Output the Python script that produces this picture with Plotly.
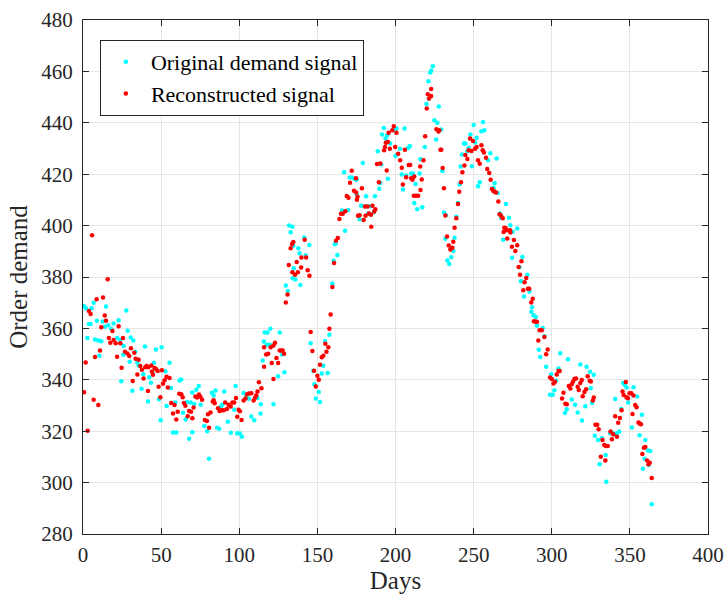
import plotly.graph_objects as go

# ---- Original demand signal (cyan) : day ----
orig_days = [0.6, 1.9, 2.8, 3.8, 4.9, 5.5, 6.8, 7.7, 8.9, 9.8, 10.5, 11.7, 12.6, 14.1, 14.7, 16.2, 18.1, 19.6,
             21.8, 22.8, 23.7, 24.5, 25.8, 26.0, 27.7, 28.6, 29.9, 30.5, 31.6, 32.2, 33.5, 34.8, 35.6, 37.5,
             38.6, 39.7, 41.6, 42.4, 43.5, 44.6, 45.4, 46.7, 48.6, 49.7, 50.3, 52.7, 53.5, 55.4, 56.3, 57.6,
             59.1, 59.7, 61.8, 62.9, 64.0, 65.7, 66.6, 67.9, 68.9, 69.9, 70.0, 71.2, 72.5, 74.1, 75.3, 77.6,
             79.5, 80.7, 82.5, 83.6, 84.8, 85.9, 87.2, 88.2, 89.1, 90.4, 92.7, 94.6, 96.8, 97.7, 98.7, 100.4,
             101.7, 102.8, 104.5, 106.2, 107.7, 109.6, 111.7, 113.6,
             113.8, 115.0, 115.7, 116.3, 117.6, 118.0, 119.3, 119.9, 121.0, 121.9, 124.9, 125.9, 127.4, 128.9,
             129.8, 131.1, 131.9, 132.9, 134.0, 134.2, 134.6, 134.9, 135.9, 137.8, 138.6, 139.1, 141.6, 142.5,
             144.9, 145.7, 147.4, 148.1, 149.0, 150.9, 151.7, 152.8, 153.8, 154.9, 156.6, 157.7, 159.6, 160.4,
             161.1, 161.7, 162.8, 165.8, 167.1, 167.7, 169.7, 170.7, 172.0,
             173.6, 175.1, 175.3, 177.0, 178.0, 179.1, 180.6, 181.2, 182.5, 184.0, 186.1, 186.8, 188.7, 189.6,
             190.2, 190.8, 191.4, 192.5, 193.6, 194.7, 195.1, 196.6, 198.7, 199.8, 200.0, 200.6, 202.9, 204.0,
             204.8, 205.8, 206.8, 208.1, 209.2, 210.0, 211.1, 212.0, 212.8, 213.9, 215.4, 216.0, 217.1, 218.8,
             219.8, 221.1, 221.3, 222.2, 222.8, 223.9, 224.9, 226.0, 226.8, 227.7,
             229.3, 230.0, 231.0, 231.9, 232.2, 233.2, 234.4, 235.7, 237.0, 237.8, 238.9, 240.0, 241.0, 241.7,
             242.5, 243.8, 244.7, 246.0, 246.8, 247.9, 248.9, 250.0, 250.9, 251.9, 252.8, 253.9, 255.0, 256.0,
             256.8, 259.2, 260.7, 262.8, 263.4, 264.7, 265.4, 266.8, 267.6, 268.9, 270.7, 272.6, 273.5, 274.6,
             274.9, 277.9, 279.3, 280.3, 281.2, 282.3, 284.4, 285.7, 286.9,
             287.4, 288.3, 289.8, 290.5, 291.7, 292.6, 294.2, 295.3, 296.4, 298.9, 299.6, 300.6, 301.7, 302.8,
             304.3, 305.5, 308.5, 309.6, 310.4, 312.8, 314.9, 316.6, 318.3, 319.4, 321.5, 322.3, 324.5,
             324.9, 325.8, 326.9, 327.6, 329.7, 330.6, 332.1, 334.5, 334.9, 337.4, 338.5, 339.8, 340.6, 341.7,
             343.2, 344.5, 345.7, 346.8, 347.9, 348.9, 351.3, 352.3, 354.7, 356.2, 357.7, 358.3, 359.4, 359.9,
             361.6, 362.1, 363.1, 364.0]
orig_vals = [368.7, 367.8, 356.3, 361.7, 361.7, 367.8, 370.0, 355.7, 363.0, 355.3, 349.4, 355.0, 362.7, 360.6,
             368.5, 361.2, 359.8, 361.9, 356.3, 363.2, 355.5, 339.4, 349.7, 353.2, 367.0, 359.1, 347.0, 356.5,
             335.7, 355.3, 350.9, 346.7, 345.6, 336.5, 342.2, 353.0, 331.6, 341.0, 338.9, 342.6, 346.6, 351.8,
             332.4, 324.3, 352.7, 343.3, 329.8, 346.6, 336.8, 319.5,
             331.2, 319.5, 339.7, 340.1, 327.2, 324.6, 331.4, 317.1, 331.2, 335.1, 319.6, 330.6, 336.1, 337.6,
             330.3, 322.0, 320.0, 309.3, 335.0, 333.9, 335.8, 321.3, 321.0, 329.5, 330.3, 335.4, 323.7, 319.4,
             328.3, 337.6, 319.2, 319.1, 317.8, 334.9, 333.5, 332.6, 325.7, 324.3, 332.9, 326.9,
             330.5, 347.5, 354.9, 358.4, 353.6, 358.4, 353.6, 359.9, 353.3, 330.5, 341.4, 358.4, 349.8, 342.9,
             376.7, 374.6, 400.0, 397.4, 399.6, 379.5, 392.2, 383.4, 379.0, 391.2, 389.2, 376.9, 395.4, 388.4,
             392.5, 354.2, 343.5, 338.3, 332.7, 335.3, 331.4, 342.5, 345.5, 355.1, 342.6, 357.5, 377.5, 386.3,
             392.8, 392.8, 388.6, 405.9, 420.8, 398.0, 406.1, 418.7, 418.7,
             418.2, 417.8, 411.9, 402.5, 407.7, 424.4, 407.5, 411.4, 404.7, 407.5, 405.2, 411.4, 428.9, 414.3,
             416.6, 423.8, 435.4, 438.0, 433.9, 435.2, 418.2, 431.9, 437.4, 436.7, 427.1, 437.8, 429.9, 419.9,
             414.0, 437.8, 419.5, 430.2, 431.0, 420.3, 420.3, 408.8, 416.2, 406.4, 420.3, 425.8, 407.1, 430.6,
             447.3, 456.2, 449.4, 459.6, 460.3, 462.0, 441.0, 433.5, 440.0, 446.3,
             437.4, 421.2, 405.1, 394.9, 404.0, 386.4, 385.1, 387.7, 390.1, 395.3, 403.4, 408.8, 416.0, 423.0,
             427.7, 431.9, 431.9, 428.9, 430.3, 435.4, 423.1, 439.1, 432.3, 434.2, 415.3, 416.9, 436.7, 440.3,
             437.1, 425.4, 428.2, 414.6, 416.5, 426.1, 412.7, 404.7, 403.1, 394.5, 408.4, 403.1, 400.1, 387.5,
             397.6, 398.9, 383.8, 378.3, 387.8, 372.4, 380.9, 374.4, 366.5,
             368.2, 365.1, 364.4, 361.0, 351.7, 348.9, 360.2, 356.9, 345.1, 334.2, 342.2, 334.2, 335.9, 339.6,
             344.4, 350.3, 327.1, 328.5, 348.0, 332.3, 330.3, 327.3, 346.0, 324.2, 329.7, 345.1, 343.1,
             336.7, 331.0, 342.0, 318.2, 316.6, 307.1, 317.3, 310.7, 300.3, 319.2, 319.5, 318.8, 332.5, 319.2,
             319.9, 328.6, 338.8, 338.0, 337.0, 331.2, 321.4, 337.1, 333.5, 318.4, 326.4, 305.4, 309.3, 316.6,
             312.5, 306.8, 312.3, 291.6]

# ---- Reconstructed signal (red) ----
recon_days = [0.6, 1.7, 3.0, 3.8, 4.9, 5.8, 6.8, 7.7, 8.7, 9.8, 10.9, 11.7, 12.8, 13.9, 14.7, 15.8, 16.6, 17.5,
              18.8, 19.6, 20.9, 21.8, 22.8, 23.9, 24.7, 25.6, 26.9, 28.4, 29.6, 30.7, 31.8, 32.8, 33.7, 34.8,
              35.6, 36.7, 37.7, 38.8, 39.9, 40.7, 41.6, 41.8, 43.7, 44.1, 44.8, 45.8, 46.9, 47.8, 48.4, 49.5,
              50.5, 51.2, 52.2, 53.5, 54.3, 55.4, 56.5, 57.6, 58.6, 59.7, 60.6, 61.6,
              62.9, 63.8, 64.6, 65.5, 67.0, 67.9, 69.1, 70.0, 70.8, 71.9, 73.0, 74.2, 75.1, 76.2, 78.0, 79.3,
              80.0, 80.7, 81.6, 83.1, 83.6, 84.3, 86.4, 87.4, 88.7, 90.0, 91.0, 92.1, 93.2, 94.5, 95.7, 96.8,
              97.9, 98.7, 99.6, 100.4, 101.5, 102.8, 104.0, 105.0, 106.2, 107.7, 109.2, 110.2, 110.9, 111.7,
              112.6,
              114.2, 115.9, 115.9, 117.2, 118.5, 120.1, 120.8, 121.9, 121.9, 122.9, 123.8, 124.9, 125.9, 127.0,
              127.8, 128.7, 129.8, 130.9, 131.7, 132.9, 133.8, 134.0, 134.6, 135.7, 136.8, 137.5, 139.6, 139.8,
              141.9, 142.8, 143.8, 144.9, 145.7, 146.8, 147.9, 149.0, 150.0, 150.9, 151.7, 152.8, 153.8, 155.1,
              155.8, 157.0, 157.7, 158.5, 159.6, 160.7, 161.9, 163.1, 164.1, 165.1, 166.2, 167.9, 168.8, 169.9,
              170.9, 172.0,
              173.4, 174.7, 174.8, 175.3, 175.7, 176.0, 177.0, 178.5, 179.6, 180.5, 180.8, 182.2, 183.0, 184.3,
              184.5, 185.3, 186.4, 187.1, 188.2, 189.4, 190.3, 192.7, 193.3, 193.8, 194.4, 195.1, 195.6, 196.4,
              197.9, 198.9, 199.8, 200.6, 201.7, 203.0, 204.0, 204.7, 206.0, 206.8, 208.5, 209.4, 210.0, 210.9,
              211.7, 212.0, 213.2, 214.5, 215.8, 216.0, 216.8, 217.9, 219.0, 220.0, 220.7, 221.5, 222.8, 222.8,
              226.2, 227.5, 228.0, 228.8,
              229.3, 230.2, 231.0, 231.9, 233.0, 234.1, 235.1, 236.4, 237.0, 237.8, 238.9, 240.0, 240.8, 241.9,
              242.8, 244.1, 244.7, 246.0, 246.8, 247.7, 248.7, 249.6, 250.9, 251.9, 252.8, 253.9, 255.0, 255.8,
              256.6, 257.9, 258.7, 260.0, 260.9, 261.7, 262.6, 263.4, 264.3, 265.8, 266.6, 267.5, 268.6, 269.2,
              269.6, 270.5, 271.3, 271.5, 273.3, 273.5, 274.5, 275.8, 276.7, 277.9, 278.8, 279.7, 280.6, 281.8,
              282.6, 283.7, 284.8, 285.6, 286.9, 287.8, 288.6, 289.7, 290.5, 291.4, 292.2,
              293.6, 295.3, 296.4, 297.4, 298.9, 300.0, 301.1, 302.1, 303.2, 304.3, 305.1, 306.6, 307.5, 308.7,
              309.6, 310.9, 311.9, 312.8, 313.6, 314.5, 315.6, 316.6, 317.3, 318.3, 319.2, 319.8, 320.9, 322.0,
              323.0, 324.3,
              325.0, 326.3, 326.9, 328.0, 329.1, 330.0, 331.4, 332.5, 333.6, 334.3, 334.6, 335.9, 337.6, 338.5,
              339.3, 340.6, 341.7, 342.5, 343.6, 344.7, 345.3, 346.0, 347.4, 347.9, 348.7, 349.8, 350.9, 351.7,
              352.3, 353.4, 354.3, 355.5, 356.2, 357.1, 358.0, 359.0, 359.9, 361.0, 361.9, 362.7, 364.0]
recon_vals = [335.2, 346.7, 320.2, 366.8, 365.6, 396.2, 332.2, 348.9, 371.3, 330.2, 351.4, 360.4, 372.0, 365.0,
              363.0, 379.1, 356.3, 354.4, 359.0, 355.5, 354.2, 349.0, 360.8, 354.2, 344.7, 356.3, 350.9, 350.2,
              349.3, 352.3, 339.5, 350.5, 348.2, 342.1, 347.8, 345.4, 343.9, 340.5, 344.9, 345.4, 335.6, 344.9,
              345.6, 343.2, 342.0, 344.6, 344.1, 343.4, 337.3, 333.2, 343.7, 338.5, 339.8, 341.2, 337.0, 340.7,
              331.0, 326.9, 330.2, 324.6, 327.6, 334.6,
              334.4, 333.2, 331.0, 329.9, 325.8, 327.9, 327.6, 325.0, 329.2, 333.5, 333.1, 334.3, 333.4, 332.2,
              324.4, 324.0, 326.6, 321.3, 327.3, 331.6, 332.0, 330.9, 328.9, 327.9, 328.2, 328.2, 331.2, 328.6,
              330.3, 329.6, 331.2, 331.2, 332.9, 325.6, 328.3, 327.8, 324.4, 331.9, 332.7, 334.4, 334.7, 334.8,
              331.9, 333.1, 334.0, 335.4, 339.0,
              336.7, 352.7, 345.1, 349.8, 350.1, 352.7, 346.5, 353.3, 340.3, 354.4, 348.5, 346.5, 351.4, 351.4,
              351.4, 350.1, 370.1, 373.2, 384.7, 391.2, 392.8, 381.8, 393.6, 380.9, 385.8, 381.8, 383.7, 387.6,
              394.5, 387.6, 382.6, 380.5, 358.6, 351.2, 343.5, 337.4, 341.6, 340.0, 345.9, 348.8, 349.4, 354.0,
              350.9, 352.7, 359.9, 365.4, 376.1, 385.4, 394.1, 395.2, 402.6, 404.6, 404.6, 405.6, 411.5, 410.8,
              416.7, 421.3,
              413.6, 418.4, 412.9, 410.1, 411.2, 403.8, 404.0, 414.5, 402.2, 407.4, 403.8, 407.4, 404.7, 404.2,
              399.6, 407.7, 405.5, 406.4, 424.0, 416.9, 424.2, 429.3, 430.6, 432.2, 421.4, 432.5, 436.1, 429.9,
              437.1, 438.7, 430.6, 436.1, 428.0, 425.4, 422.5, 416.0, 429.5, 418.8, 423.6, 423.6, 418.4, 417.8,
              411.6, 419.1, 411.6, 411.6, 423.0, 413.9, 417.9, 425.4, 434.8, 445.6, 451.1, 449.5, 450.4, 453.2,
              437.5, 436.6, 437.1, 429.5,
              429.5, 422.4, 414.5, 403.9, 395.8, 392.3, 390.7, 391.4, 393.7, 399.2, 402.9, 408.4, 413.2, 416.9,
              420.8, 423.4, 427.5, 425.9, 429.3, 433.9, 429.0, 432.9, 429.9, 430.6, 425.4, 424.1, 431.3, 429.3,
              428.4, 426.4, 422.0, 420.5, 417.8, 414.2, 413.6, 413.2, 412.9, 409.4, 404.4, 403.8, 402.9, 397.5,
              399.2, 399.0, 398.2, 395.0, 398.2, 397.3, 391.8, 394.4, 390.1, 392.4, 383.9, 380.9, 386.1, 374.8,
              378.0, 379.6, 375.4, 375.4, 370.1, 371.5, 362.8, 362.6, 362.6, 355.3, 359.3,
              359.3, 356.7, 349.9, 351.8, 340.9, 340.3, 338.6, 339.2, 342.1, 343.4, 343.4, 332.7, 335.0, 330.7,
              330.5, 337.6, 336.6, 338.3, 339.2, 340.3, 340.5, 337.3, 336.0, 338.8, 339.9, 333.6, 335.3, 336.3,
              341.4, 339.6,
              339.3, 331.9, 333.1, 322.5, 322.5, 320.8, 310.1, 316.6, 314.6, 308.6, 314.2, 314.2, 319.9, 316.9,
              318.8, 325.8, 317.8, 323.3, 325.1, 328.2, 335.4, 334.1, 339.1, 333.2, 332.8, 334.8, 334.8, 326.7,
              333.9, 330.2, 329.3, 323.4, 323.0, 322.7, 311.1, 313.6, 313.9, 308.6, 307.1, 307.7, 301.8]

x_ticks = [0, 50, 100, 150, 200, 250, 300, 350, 400]
y_ticks = [280, 300, 320, 340, 360, 380, 400, 420, 440, 460, 480]

FONT = "Liberation Serif, Times New Roman, serif"

fig = go.Figure()
fig.add_trace(go.Scatter(x=orig_days, y=orig_vals, mode="markers", name="Original demand signal",
                         marker=dict(color="#00FFFF", size=4.5, line=dict(width=0))))
fig.add_trace(go.Scatter(x=recon_days, y=recon_vals, mode="markers", name="Reconstructed signal",
                         marker=dict(color="#FF0000", size=4.5, line=dict(width=0))))

axis_common = dict(showgrid=True, gridcolor="#E6E6E6", gridwidth=1, zeroline=False,
                   showline=True, linecolor="#262626", linewidth=1, mirror="allticks",
                   ticks="inside", ticklen=6, tickcolor="#262626", automargin=False,
                   tickfont=dict(family=FONT, size=21, color="#262626"))

fig.update_xaxes(range=[0, 400], tickvals=x_ticks, ticktext=[str(v) for v in x_ticks],
                 ticklabelstandoff=2,
                 title=dict(text="Days", font=dict(family=FONT, size=25, color="#262626"), standoff=4),
                 **axis_common)
fig.update_yaxes(range=[280, 480], tickvals=y_ticks, ticktext=[str(v) for v in y_ticks],
                 ticklabelstandoff=5,
                 title=dict(text="Order demand", font=dict(family=FONT, size=25, color="#262626"), standoff=6),
                 **axis_common)

fig.update_layout(
    width=727, height=595,
    margin=dict(l=83, r=19, t=20, b=61),
    plot_bgcolor="white", paper_bgcolor="white",
    showlegend=True,
    legend=dict(x=0.027, y=0.961, xanchor="left", yanchor="top",
                bgcolor="white", bordercolor="#262626", borderwidth=1,
                font=dict(family=FONT, size=22, color="#000000"),
                itemsizing="trace", itemwidth=40, tracegroupgap=0),
)

fig.write_html("out.html")
